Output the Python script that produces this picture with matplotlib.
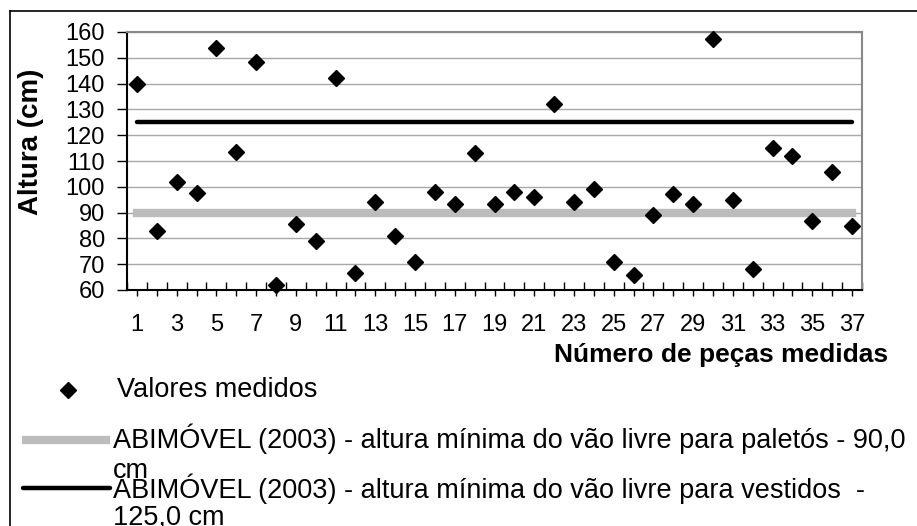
import numpy as np
import matplotlib.pyplot as plt
from matplotlib.lines import Line2D

plt.rcParams['font.family'] = ['Liberation Sans', 'DejaVu Sans']

# data
pecas = np.arange(1, 38)
alturas = [140, 83, 102, 97.5, 153.7, 113.6, 148.5, 62, 85.5, 79,
           142, 66.5, 94, 81, 71, 97.9, 93.2, 113, 93.2, 97.9,
           96.2, 132.1, 94, 99.1, 71, 65.8, 89.1, 97.1, 93.2, 157.2,
           94.9, 68, 115.2, 112.1, 86.9, 105.9, 84.9]
ref_paletos = 90.0
ref_vestidos = 125.0
y_ticks = list(range(60, 161, 10))
x_ticklabels = [str(i) if i % 2 == 1 else '' for i in pecas]

leg_valores = 'Valores medidos'
leg_paletos = ['ABIMÓVEL (2003) - altura mínima do vão livre para paletós - 90,0', 'cm']
leg_vestidos = ['ABIMÓVEL (2003) - altura mínima do vão livre para vestidos  -', '125,0 cm']

W, H = 917, 526
fig = plt.figure(figsize=(W / 100, H / 100), dpi=100)

def px(x, y):
    # pixel (from top-left) -> figure fraction
    return x / W, 1 - y / H

ax = fig.add_axes([127 / W, 1 - 290 / H, (862 - 127) / W, (290 - 32) / H])

ax.set_xlim(0.5, 37.5)
ax.set_ylim(60, 160)
ax.set_yticks(y_ticks)
ax.grid(axis='y', color='#a8a8a8', lw=1)
ax.set_axisbelow(True)

ax.plot(pecas, [ref_paletos] * len(pecas), color='#bcbcbc', lw=6,
        solid_capstyle='projecting', zorder=2)
ax.plot(pecas, [ref_vestidos] * len(pecas), color='black', lw=3.2,
        solid_capstyle='round', zorder=3)
ax.plot(pecas, alturas, 'D', color='black', ms=8.5, ls='none',
        clip_on=False, zorder=4)

# axis styling
for s in ['top', 'right']:
    ax.spines[s].set_color('#888888')
    ax.spines[s].set_linewidth(1.5)
for s in ['left', 'bottom']:
    ax.spines[s].set_color('black')
    ax.spines[s].set_linewidth(1.5)

ax.set_xticks(pecas)
ax.set_xticklabels(x_ticklabels)
ax.set_xticks(np.arange(0.5, 38, 1), minor=True)
ax.tick_params(axis='x', which='major', direction='out', length=4,
               width=1, labelsize=17, pad=13)
ax.tick_params(axis='x', which='minor', direction='in', length=6, width=1)
ax.tick_params(axis='y', direction='out', length=7, width=1,
               labelsize=17, pad=9)

ax.set_ylabel('Altura (cm)', fontsize=20, fontweight='bold')
ax.yaxis.set_label_coords((44 - 127) / 735, (290 - 142) / 258)

fig.text(*px(888, 362), 'Número de peças medidas', fontsize=19,
         fontweight='bold', ha='right', va='baseline')

# outer frame (cut at right/bottom like the reference)
fig.add_artist(Line2D([9.5 / W, 9.5 / W], [0, 1 - 11 / H],
                      transform=fig.transFigure, color='black', lw=1.2))
fig.add_artist(Line2D([9.5 / W, 1], [1 - 11 / H, 1 - 11 / H],
                      transform=fig.transFigure, color='black', lw=1.2))

# legend, drawn by hand
fig.add_artist(Line2D([px(68, 390)[0]], [px(68, 390)[1]], marker='D',
                      color='black', ms=8.5, transform=fig.transFigure))
fig.text(*px(117, 397), leg_valores, fontsize=19.5, va='baseline')

fig.add_artist(Line2D([22 / W, 110 / W], [1 - 440 / H] * 2, color='#bcbcbc',
                      lw=6, solid_capstyle='butt', transform=fig.transFigure))
fig.text(*px(113, 448), leg_paletos[0], fontsize=19.5, va='baseline')
fig.text(*px(113, 478), leg_paletos[1], fontsize=19.5, va='baseline')

fig.add_artist(Line2D([23 / W, 110 / W], [1 - 488 / H] * 2, color='black',
                      lw=3.2, solid_capstyle='round', transform=fig.transFigure))
fig.text(*px(113, 498), leg_vestidos[0], fontsize=19.5, va='baseline')
fig.text(*px(113, 524), leg_vestidos[1], fontsize=19.5, va='baseline')

fig.savefig('out.png', dpi=100)
